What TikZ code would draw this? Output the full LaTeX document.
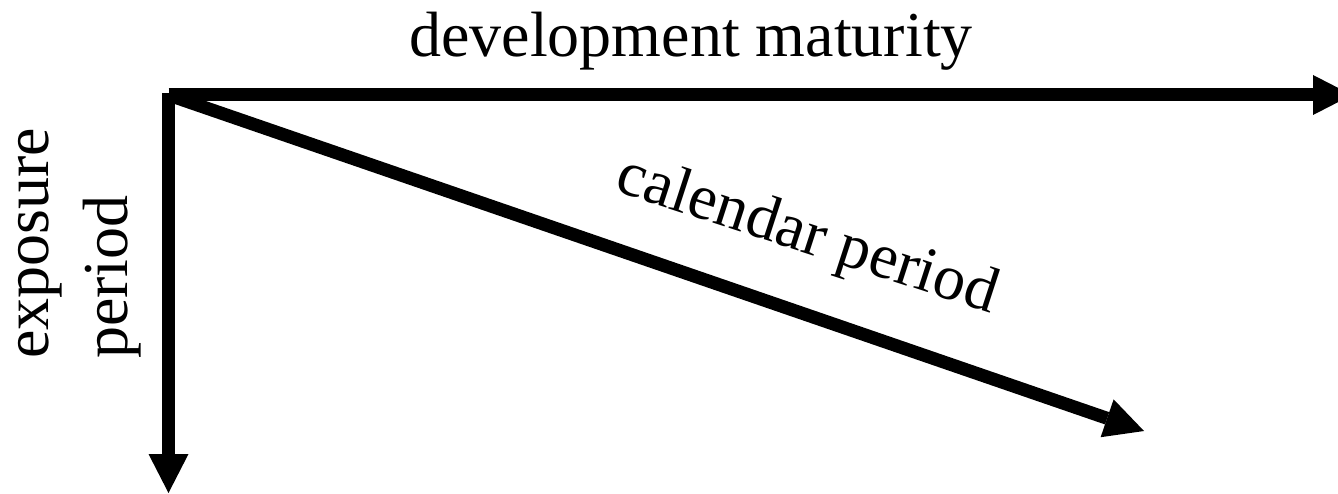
\documentclass[tikz,border=0pt]{standalone}
\usepackage{fontspec}
\setmainfont{Liberation Serif}
\usetikzlibrary{arrows.meta}
\begin{document}
\begin{tikzpicture}[x=1pt,y=-1pt,
  axis/.style={line width=13pt,
    -{Triangle[length=39pt,width=40pt,line width=0pt]}},
  lbl/.style={inner sep=0pt,font=\fontsize{64}{79}\selectfont}]
  \useasboundingbox (0,0) rectangle (1338,494);
  % origin and axis end points
  \coordinate (o) at (168.5,95);
  \coordinate (top) at (168.5,93);
  \coordinate (dev) at (1352,95);
  \coordinate (exp) at (168.5,493);
  \coordinate (cal) at (1144,431);
  % axes
  \draw[axis] (o) -- (dev);
  \draw[axis] (top) -- (exp);
  \draw[axis] (o) -- (cal);
  % labels
  \node[lbl,anchor=base] (devlbl) at (691,57) {development maturity};
  \node[lbl,anchor=base west,rotate=90,align=left] (explbl) at (127,359) {exposure\\period};
  \node[lbl,anchor=base,rotate=-18] (callbl) at (802,252) {calendar period};
\end{tikzpicture}
\end{document}
